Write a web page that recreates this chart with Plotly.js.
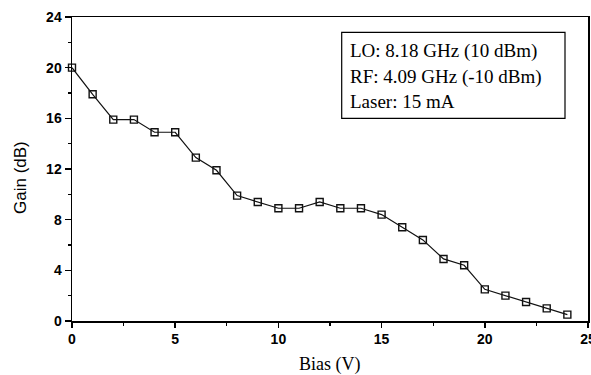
<!DOCTYPE html>
<html>
<head>
<meta charset="utf-8">
<script src="https://cdn.plot.ly/plotly-3.0.1.min.js"></script>
<style>html,body{margin:0;padding:0;background:#fff;}#chart{width:591px;height:375px;}</style>
</head>
<body>
<div id="chart"></div>
<script>
const bias = [0,1,2,3,4,5,6,7,8,9,10,11,12,13,14,15,16,17,18,19,20,21,22,23,24];
const gain = [20,17.9,15.9,15.9,14.9,14.9,12.9,11.9,9.9,9.4,8.9,8.9,9.4,8.9,8.9,8.4,7.4,6.4,4.9,4.4,2.5,2.0,1.5,1.0,0.5];
const xTicks = [0,5,10,15,20,25];
const yTicks = [0,4,8,12,16,20,24];
const legendLines = ["LO: 8.18 GHz (10 dBm)", "RF: 4.09 GHz (-10 dBm)", "Laser: 15 mA"];
const xTitle = "Bias (V)";
const yTitle = "Gain (dB)";

const L = 72, R = 588, T = 17, B = 321;
const px = v => (v - L) / (R - L);
const py = v => 1 - (v - T) / (B - T);

const trace = {
  x: bias, y: gain, type: 'scatter', mode: 'lines+markers',
  line: {color: '#111', width: 1.2},
  marker: {symbol: 'square-open', size: 7, color: '#111', line: {width: 1.4}},
  showlegend: false, cliponaxis: false
};

const tickFont = {family: 'Liberation Sans, Arial, sans-serif', size: 14, color: '#000', weight: 'bold'};

const layout = {
  width: 591, height: 375,
  margin: {l: L, r: 591 - R, t: T, b: 375 - B},
  paper_bgcolor: '#fff', plot_bgcolor: '#fff',
  xaxis: {
    range: [0, 25], tickvals: xTicks, ticktext: xTicks.map(String),
    ticks: 'outside', ticklen: 5, tickwidth: 1.5, tickcolor: '#000',
    minor: {dtick: 2.5, ticks: 'outside', ticklen: 3, tickcolor: '#000', tickwidth: 1.2, showgrid: false},
    showline: true, linecolor: '#000', linewidth: 1.5, mirror: true,
    showgrid: false, zeroline: false, ticklabeloverflow: 'allow',
    tickfont: tickFont
  },
  yaxis: {
    range: [0, 24], tickvals: yTicks, ticktext: yTicks.map(String),
    ticks: 'outside', ticklen: 6, tickwidth: 1.5, tickcolor: '#000',
    minor: {dtick: 2, ticks: 'outside', ticklen: 3, tickcolor: '#000', tickwidth: 1.2, showgrid: false},
    showline: true, linecolor: '#000', linewidth: 1.5, mirror: true,
    showgrid: false, zeroline: false, ticklabeloverflow: 'allow',
    tickfont: tickFont
  },
  shapes: [{
    type: 'rect', xref: 'paper', yref: 'paper',
    x0: px(341.7), x1: px(565), y0: py(118.3), y1: py(32.3),
    line: {color: '#000', width: 1.2}, fillcolor: 'rgba(0,0,0,0)'
  }],
  annotations: legendLines.map((t, i) => ({
    text: t, xref: 'paper', yref: 'paper', showarrow: false,
    x: px(348), xanchor: 'left',
    y: py([51, 77, 101][i]), yanchor: 'middle',
    font: {family: 'Liberation Serif, Times New Roman, serif', size: 19, color: '#000'}
  })).concat([
    {text: xTitle, xref: 'paper', yref: 'paper', showarrow: false,
     x: px(330), xanchor: 'center', y: py(364), yanchor: 'middle',
     font: {family: 'Liberation Serif, Times New Roman, serif', size: 18, color: '#000'}},
    {text: yTitle, xref: 'paper', yref: 'paper', showarrow: false, textangle: -90,
     x: px(20), xanchor: 'center', y: py(178), yanchor: 'middle',
     font: {family: 'Liberation Sans, Arial, sans-serif', size: 17, color: '#000'}}
  ])
};

Plotly.newPlot('chart', [trace], layout, {displayModeBar: false, staticPlot: true});
</script>
</body>
</html>
